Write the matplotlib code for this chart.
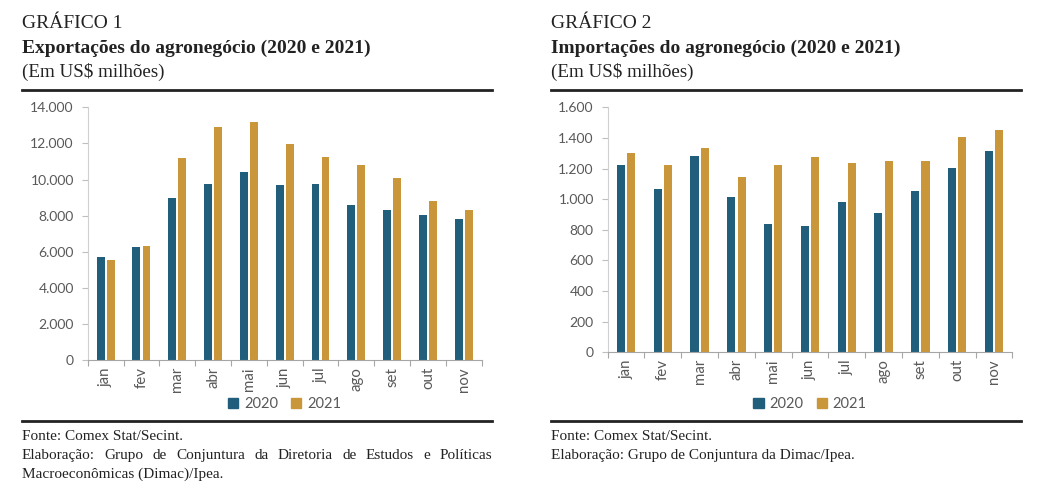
import matplotlib
matplotlib.use('Agg')
import matplotlib.pyplot as plt
from matplotlib.patches import Patch
from matplotlib.lines import Line2D
import numpy as np

# Dados (Em US$ milhões)
meses = ['jan', 'fev', 'mar', 'abr', 'mai', 'jun', 'jul', 'ago', 'set', 'out', 'nov']
exp_2020 = [5720, 6280, 8980, 9740, 10420, 9690, 9740, 8600, 8320, 8020, 7820]
exp_2021 = [5570, 6340, 11220, 12910, 13210, 11970, 11250, 10830, 10090, 8820, 8340]
imp_2020 = [1223, 1064, 1280, 1012, 838, 827, 984, 912, 1051, 1204, 1313]
imp_2021 = [1304, 1221, 1337, 1147, 1221, 1276, 1236, 1252, 1252, 1406, 1452]

cor_2020 = '#215E7C'
cor_2021 = '#C9963A'
cinza = '#595959'
serif = 'Liberation Serif'
sans = 'Lato'

fig = plt.figure(figsize=(10.41, 4.88), dpi=100)
renderer = fig.canvas.get_renderer()

def fy(px):
    return 1 - px / 488

def fx(px):
    return px / 1041

def fmt_milhar(v, pos=None):
    return f'{int(v):,}'.replace(',', '.')

def texto_justificado(x0, x1, y, linha, **kw):
    # distribui as palavras entre x0 e x1 (em pixels)
    palavras = linha.split(' ')
    objs = [fig.text(0, fy(y), p, va='baseline', **kw) for p in palavras]
    larg = [t.get_window_extent(renderer).width for t in objs]
    gap = (x1 - x0 - sum(larg)) / (len(palavras) - 1)
    pos = x0
    for t, w in zip(objs, larg):
        t.set_x(fx(pos))
        pos += w + gap

def painel(x0, x1, numero, titulo, fonte_linhas, justificar, ax_rect, v20, v21, ymax, ystep):
    # cabeçalho
    fig.text(fx(x0), fy(28.5), f'GRÁFICO {numero}', family=serif, fontsize=14,
             va='baseline', color='#222222')
    fig.text(fx(x0), fy(53), titulo, family=serif, fontsize=14, fontweight='bold',
             va='baseline', color='#222222')
    fig.text(fx(x0), fy(77), '(Em US$ milhões)', family=serif, fontsize=13.7,
             va='baseline', color='#222222')
    for yy in (89.5, 421):
        fig.add_artist(Line2D([fx(x0), fx(x1)], [fy(yy), fy(yy)], color='#222222',
                              lw=2.0, transform=fig.transFigure))
    for i, linha in enumerate(fonte_linhas):
        kw = dict(family=serif, fontsize=11, color='#222222')
        if i in justificar:
            texto_justificado(x0, x1, 440 + 19 * i, linha, **kw)
        else:
            fig.text(fx(x0), fy(440 + 19 * i), linha, va='baseline', **kw)

    ax = fig.add_axes(ax_rect)
    x = np.arange(len(meses))
    w = 0.22
    ax.bar(x - 0.14, v20, width=w, color=cor_2020)
    ax.bar(x + 0.14, v21, width=w, color=cor_2021)
    ax.set_xlim(-0.5, len(meses) - 0.5)
    ax.set_ylim(0, ymax)
    ax.set_yticks(np.arange(0, ymax + 1, ystep))
    ax.yaxis.set_major_formatter(plt.FuncFormatter(fmt_milhar))
    ax.set_xticks(np.arange(-0.5, len(meses), 1))
    ax.set_xticklabels([])
    ax.set_xticks(x, minor=True)
    ax.set_xticklabels(meses, minor=True, rotation=90)
    ax.tick_params(axis='x', which='minor', length=0, pad=5, labelsize=10.8,
                   labelcolor=cinza)
    ax.tick_params(axis='x', which='major', length=4, color='#A6A6A6')
    ax.tick_params(axis='y', length=4, color='#BFBFBF', labelsize=10,
                   labelcolor=cinza, pad=6)
    for lab in ax.get_xticklabels(minor=True) + ax.get_yticklabels():
        lab.set_family(sans)
    for s in ('top', 'right'):
        ax.spines[s].set_visible(False)
    ax.spines['left'].set_color('#D0D0D0')
    ax.spines['bottom'].set_color('#A6A6A6')

    cx = (ax_rect[0] + ax_rect[2] / 2)
    handles = [Patch(color=cor_2020, label='2020'), Patch(color=cor_2021, label='2021')]
    fig.legend(handles=handles, loc='center', bbox_to_anchor=(cx, fy(404)), ncol=2,
               frameon=False, handlelength=0.7, handleheight=0.7, handletextpad=0.4,
               columnspacing=0.9, prop={'family': sans, 'size': 10.5},
               labelcolor=cinza)
    return ax

painel(22, 492, 1, 'Exportações do agronegócio (2020 e 2021)',
       ['Fonte: Comex Stat/Secint.',
        'Elaboração: Grupo de Conjuntura da Diretoria de Estudos e Políticas',
        'Macroeconômicas (Dimac)/Ipea.'], [1],
       [fx(87.7), fy(360.3), fx(481.7) - fx(87.7), (360.3 - 107.3) / 488],
       exp_2020, exp_2021, 14000, 2000)

painel(551, 1021, 2, 'Importações do agronegócio (2020 e 2021)',
       ['Fonte: Comex Stat/Secint.',
        'Elaboração: Grupo de Conjuntura da Dimac/Ipea.'], [],
       [fx(607.7), fy(352.3), fx(1012.3) - fx(607.7), (352.3 - 107.3) / 488],
       imp_2020, imp_2021, 1600, 200)

fig.savefig('out.png', dpi=100)
